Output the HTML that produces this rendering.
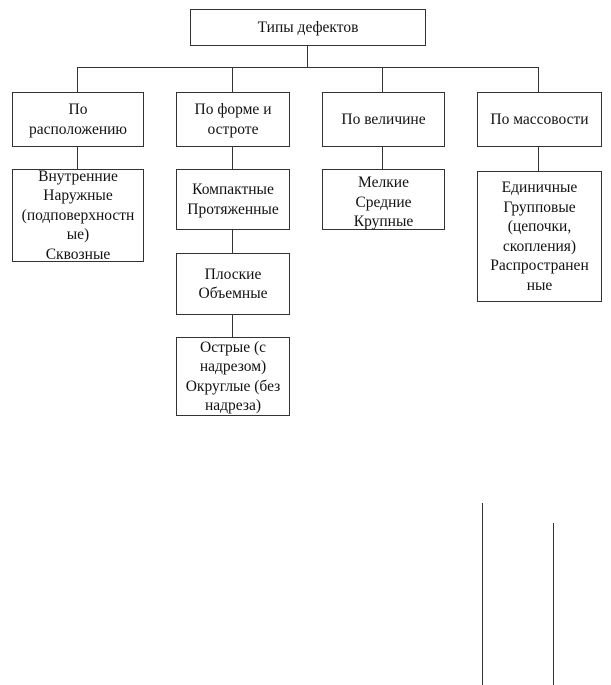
<!DOCTYPE html>
<html><head><meta charset="utf-8"><style>
body{margin:0;width:611px;height:685px;background:#fff;position:relative;overflow:hidden;font-family:"Liberation Serif",serif;font-size:15.5px;color:#111}
.b{position:absolute;border:1px solid #333;box-sizing:border-box;display:flex;align-items:center;justify-content:center;text-align:center;line-height:19.5px;background:#fff;white-space:nowrap}
.l{position:absolute;background:#333}
</style></head><body>
<div class="l" style="left:307px;top:45px;width:1px;height:22px"></div>
<div class="l" style="left:77px;top:67px;width:462px;height:1px"></div>
<div class="l" style="left:77px;top:67px;width:1px;height:25px"></div>
<div class="l" style="left:232px;top:67px;width:1px;height:25px"></div>
<div class="l" style="left:382px;top:67px;width:1px;height:25px"></div>
<div class="l" style="left:538px;top:67px;width:1px;height:25px"></div>
<div class="l" style="left:77px;top:146px;width:1px;height:23px"></div>
<div class="l" style="left:232px;top:146px;width:1px;height:23px"></div>
<div class="l" style="left:382px;top:146px;width:1px;height:23px"></div>
<div class="l" style="left:538px;top:146px;width:1px;height:25px"></div>
<div class="l" style="left:232px;top:229px;width:1px;height:24px"></div>
<div class="l" style="left:232px;top:314px;width:1px;height:24px"></div>
<div class="l" style="left:482px;top:503px;width:1px;height:182px"></div>
<div class="l" style="left:553px;top:523px;width:1px;height:162px"></div>

<div class="b" style="left:190px;top:9px;width:236px;height:37px">Типы дефектов</div>
<div class="b" style="left:12px;top:92px;width:132px;height:55px">По<br>расположению</div>
<div class="b" style="left:176px;top:92px;width:114px;height:55px">По форме и<br>остроте</div>
<div class="b" style="left:322px;top:92px;width:123px;height:55px">По величине</div>
<div class="b" style="left:477px;top:92px;width:125px;height:55px">По массовости</div>
<div class="b" style="left:12px;top:169px;width:132px;height:93px">Внутренние<br>Наружные<br>(подповерхностн<br>ые)<br>Сквозные</div>
<div class="b" style="left:176px;top:169px;width:114px;height:61px">Компактные<br>Протяженные</div>
<div class="b" style="left:322px;top:169px;width:123px;height:61px;align-items:flex-start;padding-top:3px">Мелкие<br>Средние<br>Крупные</div>
<div class="b" style="left:477px;top:171px;width:125px;height:131px">Единичные<br>Групповые<br>(цепочки,<br>скопления)<br>Распространен<br>ные</div>
<div class="b" style="left:176px;top:253px;width:114px;height:62px">Плоские<br>Объемные</div>
<div class="b" style="left:176px;top:337px;width:114px;height:79px">Острые (с<br>надрезом)<br>Округлые (без<br>надреза)</div>
</body></html>
